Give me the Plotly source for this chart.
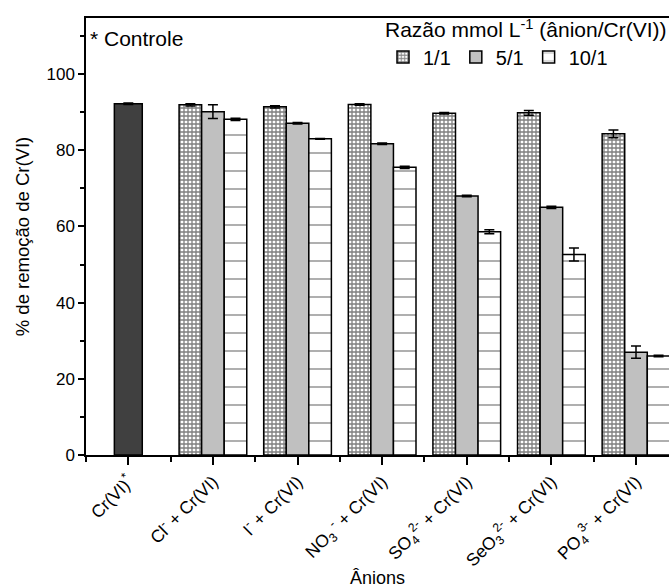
import plotly.graph_objects as go

# Anion categories (x axis) and removal percentages
categories = [
    "Cr(VI)<sup>*</sup>",
    "Cl<sup>-</sup> + Cr(VI)",
    "I<sup>-</sup> + Cr(VI)",
    "NO<sub>3</sub><sup> -</sup> + Cr(VI)",
    "SO<sub>4</sub><sup>2-</sup> + Cr(VI)",
    "SeO<sub>3</sub><sup>2-</sup> + Cr(VI)",
    "PO<sub>4</sub><sup>3-</sup> + Cr(VI)",
]

control_value = [92.2]
control_err = [0.2]

ratio_names = ["1/1", "5/1", "10/1"]
ratio_1_1 = [91.9, 91.4, 92.0, 89.7, 89.8, 84.3]
ratio_5_1 = [90.1, 87.1, 81.7, 68.0, 65.0, 27.0]
ratio_10_1 = [88.1, 83.0, 75.5, 58.6, 52.6, 26.0]
err_1_1 = [0.3, 0.3, 0.2, 0.2, 0.6, 1.0]
err_5_1 = [1.8, 0.2, 0.2, 0.2, 0.3, 1.6]
err_10_1 = [0.3, 0.1, 0.3, 0.5, 1.7, 0.2]

FONT = "Liberation Sans"
positions = list(range(len(categories)))
anion_pos = positions[1:]

fig = go.Figure()

errbar = dict(type="data", color="black", thickness=1.5, width=5)
outline = dict(color="black", width=1.5)

fig.add_trace(go.Bar(
    x=positions[:1], y=control_value, width=0.33, offset=-0.165,
    marker=dict(color="#404040", line=outline),
    error_y=dict(array=control_err, **errbar),
    showlegend=False,
))

styles = [
    dict(color="white", line=outline,
         pattern=dict(shape="+", fgcolor="black", bgcolor="white", size=4, solidity=0.55)),
    dict(color="#c0c0c0", line=outline),
    dict(color="white", line=outline,
         pattern=dict(shape="-", fgcolor="black", bgcolor="white", size=18, solidity=0.07)),
]
series = [ratio_1_1, ratio_5_1, ratio_10_1]
errors = [err_1_1, err_5_1, err_10_1]
bw = 0.8 / 3
for i, (name, vals, errs, st) in enumerate(zip(ratio_names, series, errors, styles)):
    fig.add_trace(go.Bar(
        x=anion_pos, y=vals, name=name, width=bw, offset=-0.4 + i * bw,
        marker=st,
        error_y=dict(array=errs, **errbar),
    ))

fig.add_annotation(
    x=0.004, y=0.985, xref="paper", yref="paper", xanchor="left", yanchor="top",
    text="* Controle", showarrow=False, font=dict(family=FONT, size=21, color="black"),
)

fig.update_layout(
    width=669, height=588,
    margin=dict(l=86, r=0, t=18, b=133),
    barmode="overlay",
    plot_bgcolor="white", paper_bgcolor="white",
    font=dict(family=FONT, size=17, color="black"),
    legend=dict(
        orientation="h", x=1.0, y=1.018, xanchor="right", yanchor="top",
        title=dict(text="Razão mmol L<sup>-1</sup> (ânion/Cr(VI))", side="top",
                   font=dict(family=FONT, size=21)),
        font=dict(family=FONT, size=20), bgcolor="rgba(0,0,0,0)",
        tracegroupgap=0, itemwidth=30,
    ),
    xaxis=dict(
        range=[-0.5, 6.39], tickmode="array", tickvals=positions, ticktext=categories,
        tickangle=-45, ticks="outside", ticklen=8, tickwidth=1.5, tickcolor="black",
        showline=True, linecolor="black", linewidth=1.5, mirror=True,
        showgrid=False, zeroline=False,
        minor=dict(tick0=0.5, dtick=1, ticks="outside", ticklen=5, tickwidth=1.5, tickcolor="black"),
        title=dict(text="Ânions", font=dict(family=FONT, size=18), standoff=2),
        tickfont=dict(family=FONT, size=17.5),
    ),
    yaxis=dict(
        range=[0, 114.7], tickvals=[0, 20, 40, 60, 80, 100],
        ticks="outside", ticklen=6, tickwidth=1.5, tickcolor="black",
        showline=True, linecolor="black", linewidth=1.5,
        showgrid=False, zeroline=False,
        minor=dict(dtick=10, ticks="outside", ticklen=4, tickwidth=1.5, tickcolor="black"),
        title=dict(text="% de remoção de Cr(VI)", font=dict(family=FONT, size=18.5), standoff=12),
        tickfont=dict(family=FONT, size=17),
    ),
)

fig.write_html("out.html")
